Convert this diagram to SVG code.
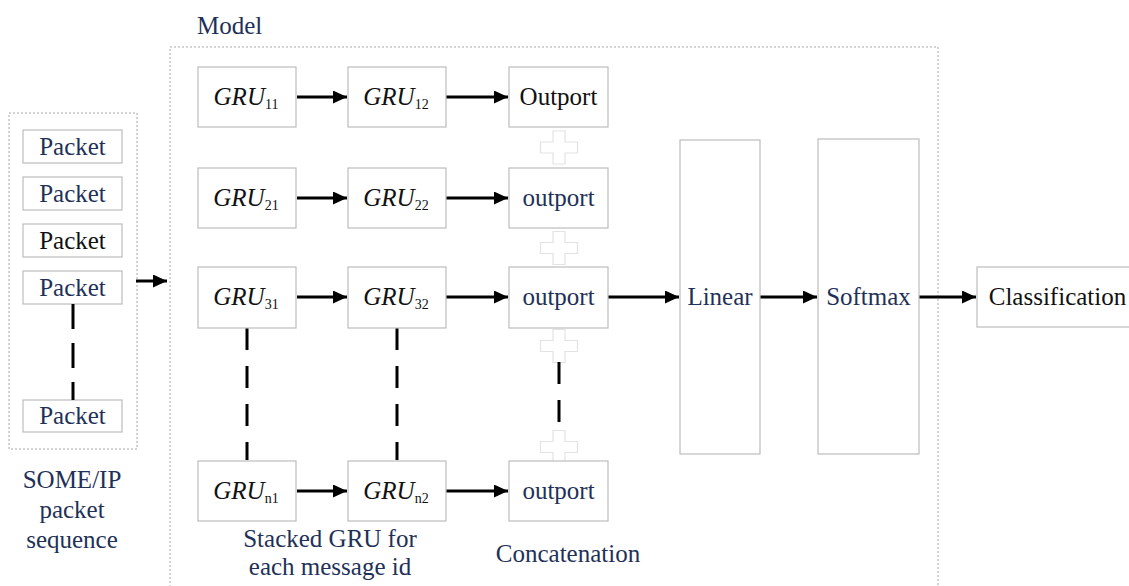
<svg xmlns="http://www.w3.org/2000/svg" width="1129" height="586" viewBox="0 0 1129 586">
<defs>
<style>
text{font-family:"Liberation Serif","Times New Roman",serif;font-size:25px;}
.blue{fill:#1f3158;}
.blk{fill:#111;}
.box{fill:#fff;stroke:#bdbdbd;stroke-width:1.2;}
.dot{fill:none;stroke:#a8a8a8;stroke-width:1;stroke-dasharray:2 2;}
.arr{stroke:#000;stroke-width:3;fill:none;marker-end:url(#ah);}
.dash{stroke:#000;stroke-width:3;fill:none;}
.plus{fill:#fff;stroke:#e3e3e3;stroke-width:1.2;}
.it{font-style:italic;}
.sub{font-size:14px;}
</style>
<marker id="ah" markerUnits="userSpaceOnUse" markerWidth="15" markerHeight="14" refX="14" refY="6.5" orient="auto">
<path d="M0,0 L14,6.5 L0,13 z" fill="#000"/>
</marker>
<path id="plusShape" d="M-6,-16.5 H6 V-5.5 H18.5 V5.5 H6 V16.5 H-6 V5.5 H-18.5 V-5.5 H-6 Z"/>
</defs>
<rect width="1129" height="586" fill="#fff"/>

<g id="model-frame">
<rect class="dot" x="170" y="47" width="768" height="560"/>
<text class="blue" x="197" y="34">Model</text>
</g>

<g id="packet-sequence">
<rect class="dot" x="9" y="113" width="128" height="336"/>
<g id="packet1"><rect class="box" x="23" y="130" width="99" height="33"/><text class="blue" x="72.5" y="155" text-anchor="middle">Packet</text></g>
<g id="packet2"><rect class="box" x="23" y="177" width="99" height="33"/><text class="blue" x="72.5" y="202" text-anchor="middle">Packet</text></g>
<g id="packet3"><rect class="box" x="23" y="224" width="99" height="33"/><text class="blk" x="72.5" y="249" text-anchor="middle">Packet</text></g>
<g id="packet4"><rect class="box" x="23" y="271" width="99" height="33"/><text class="blue" x="72.5" y="296" text-anchor="middle">Packet</text></g>
<g id="packet5"><rect class="box" x="23" y="400" width="99" height="32"/><text class="blue" x="72.5" y="424" text-anchor="middle">Packet</text></g>
<text class="blue" text-anchor="middle"><tspan x="72" y="488">SOME/IP</tspan><tspan x="72" y="518">packet</tspan><tspan x="72" y="548">sequence</tspan></text>
</g>

<g id="plus-signs">
<use href="#plusShape" class="plus" x="559" y="147.5"/>
<use href="#plusShape" class="plus" x="559" y="248"/>
<use href="#plusShape" class="plus" x="559" y="346"/>
<use href="#plusShape" class="plus" x="559" y="447"/>
</g>

<g id="connectors">
<line class="arr" x1="136" y1="281" x2="167" y2="281"/>
<line class="arr" x1="297" y1="97" x2="347" y2="97"/>
<line class="arr" x1="297" y1="198" x2="347" y2="198"/>
<line class="arr" x1="297" y1="297" x2="347" y2="297"/>
<line class="arr" x1="297" y1="491" x2="347" y2="491"/>
<line class="arr" x1="446" y1="97" x2="508" y2="97"/>
<line class="arr" x1="446" y1="198" x2="508" y2="198"/>
<line class="arr" x1="446" y1="297" x2="508" y2="297"/>
<line class="arr" x1="446" y1="491" x2="508" y2="491"/>
<line class="arr" x1="608" y1="297" x2="679" y2="297"/>
<line class="arr" x1="760" y1="297" x2="817" y2="297"/>
<line class="arr" x1="919" y1="297" x2="976" y2="297"/>
<line class="dash" x1="73" y1="304" x2="73" y2="400" stroke-dasharray="25 14"/>
<line class="dash" x1="247" y1="328" x2="247" y2="460" stroke-dasharray="22 16"/>
<line class="dash" x1="397" y1="328" x2="397" y2="460" stroke-dasharray="22 16"/>
<line class="dash" x1="559" y1="362" x2="559" y2="424" stroke-dasharray="22 16"/>
</g>

<g id="gru11"><rect class="box" x="198" y="67" width="98" height="60"/><text class="blk" x="246" y="105" text-anchor="middle"><tspan class="it">GRU</tspan><tspan class="sub" dy="4">11</tspan></text></g>
<g id="gru12"><rect class="box" x="348" y="67" width="98" height="60"/><text class="blk" x="396" y="105" text-anchor="middle"><tspan class="it">GRU</tspan><tspan class="sub" dy="4">12</tspan></text></g>
<g id="gru21"><rect class="box" x="198" y="168" width="98" height="60"/><text class="blk" x="246" y="206" text-anchor="middle"><tspan class="it">GRU</tspan><tspan class="sub" dy="4">21</tspan></text></g>
<g id="gru22"><rect class="box" x="348" y="168" width="98" height="60"/><text class="blk" x="396" y="206" text-anchor="middle"><tspan class="it">GRU</tspan><tspan class="sub" dy="4">22</tspan></text></g>
<g id="gru31"><rect class="box" x="198" y="267" width="98" height="61"/><text class="blk" x="246" y="305" text-anchor="middle"><tspan class="it">GRU</tspan><tspan class="sub" dy="4">31</tspan></text></g>
<g id="gru32"><rect class="box" x="348" y="267" width="98" height="61"/><text class="blk" x="396" y="305" text-anchor="middle"><tspan class="it">GRU</tspan><tspan class="sub" dy="4">32</tspan></text></g>
<g id="grun1"><rect class="box" x="198" y="461" width="98" height="60"/><text class="blk" x="246" y="499" text-anchor="middle"><tspan class="it">GRU</tspan><tspan class="sub" dy="4">n1</tspan></text></g>
<g id="grun2"><rect class="box" x="348" y="461" width="98" height="60"/><text class="blk" x="396" y="499" text-anchor="middle"><tspan class="it">GRU</tspan><tspan class="sub" dy="4">n2</tspan></text></g>

<g id="outport1"><rect class="box" x="509" y="67" width="99" height="60"/><text class="blk" x="558.5" y="105" text-anchor="middle">Outport</text></g>
<g id="outport2"><rect class="box" x="509" y="168" width="99" height="60"/><text class="blue" x="558.5" y="206" text-anchor="middle">outport</text></g>
<g id="outport3"><rect class="box" x="509" y="267" width="99" height="61"/><text class="blue" x="558.5" y="305" text-anchor="middle">outport</text></g>
<g id="outportn"><rect class="box" x="509" y="461" width="99" height="60"/><text class="blue" x="558.5" y="499" text-anchor="middle">outport</text></g>

<g id="linear"><rect class="box" x="680" y="140" width="80" height="314"/><text class="blue" x="720" y="305" text-anchor="middle">Linear</text></g>
<g id="softmax"><rect class="box" x="818" y="139" width="101" height="315"/><text class="blue" x="868.5" y="305" text-anchor="middle">Softmax</text></g>
<g id="classification"><rect class="box" x="977" y="267" width="160" height="60"/><text class="blk" x="1057.5" y="305" text-anchor="middle">Classification</text></g>

<g id="labels">
<text class="blue" text-anchor="middle"><tspan x="330" y="547">Stacked GRU for</tspan><tspan x="330" y="575">each message id</tspan></text>
<text class="blue" x="568" y="562" text-anchor="middle">Concatenation</text>
</g>
</svg>
